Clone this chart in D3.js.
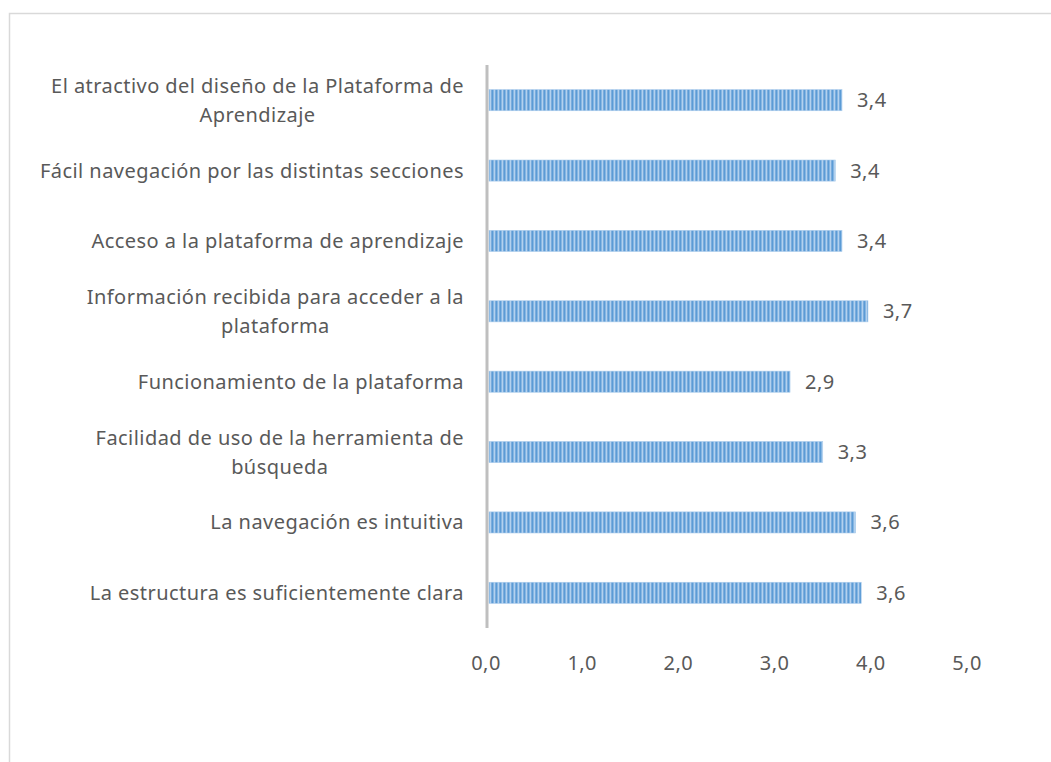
<!DOCTYPE html>
<html>
  <head>
    <meta charset="utf-8" />
    <title>Valoración de la plataforma</title>
    <style>
      html,
      body {
        margin: 0;
        padding: 0;
        background: #fff;
      }
      svg text {
        font-family: "Noto Sans", "Open Sans", sans-serif;
        fill: #595959;
        letter-spacing: 0.45px;
      }
    </style>
  </head>
  <body>
    <svg id="chart"></svg>
    <script src="https://cdn.jsdelivr.net/npm/d3@7"></script>
    <script>
      // categories, top to bottom, "\n" = line break as in the original
      const categories = [
        "El atractivo del diseño de la Plataforma de\nAprendizaje",
        "Fácil navegación por las distintas secciones",
        "Acceso a la plataforma de aprendizaje",
        "Información recibida para acceder a la\nplataforma",
        "Funcionamiento de la plataforma",
        "Facilidad de uso de la herramienta de\nbúsqueda",
        "La navegación es intuitiva",
        "La estructura es suficientemente clara"
      ];
      // bar lengths as drawn in the picture
      const barValues = [3.69, 3.62, 3.69, 3.96, 3.15, 3.49, 3.83, 3.89];
      // data labels as printed next to the bars
      const valueLabels = ["3,4", "3,4", "3,4", "3,7", "2,9", "3,3", "3,6", "3,6"];
      const xTicks = [0, 1, 2, 3, 4, 5];

      const width = 1051;
      const height = 762;
      const fontSize = 20;

      const svg = d3.select("#chart").attr("width", width).attr("height", height);

      // stripe pattern for the bars
      const defs = svg.append("defs");
      const pat = defs
        .append("pattern")
        .attr("id", "stripes")
        .attr("patternUnits", "userSpaceOnUse")
        .attr("width", 4)
        .attr("height", 4);
      const stripeCols = ["#5b9bd5", "#86b6e3", "#b3d1ee", "#7aacdd"];
      stripeCols.forEach((c, i) =>
        pat.append("rect").attr("x", i).attr("width", 1).attr("height", 4).attr("fill", c)
      );

      // chart border (cut off at right and bottom)
      svg
        .append("rect")
        .attr("x", 9.5)
        .attr("y", 13.5)
        .attr("width", 1100)
        .attr("height", 800)
        .attr("fill", "none")
        .attr("stroke", "#d9d9d9")
        .attr("stroke-width", 1.5);

      const x = d3.scaleLinear().domain([0, 5]).range([487, 968]);
      const y = d3
        .scaleBand()
        .domain(categories)
        .range([65, 628])
        .paddingInner(0.7)
        .paddingOuter(0.35);

      // bars
      svg
        .append("g")
        .selectAll("rect")
        .data(categories)
        .join("rect")
        .attr("x", x(0) + 2)
        .attr("y", (d) => y(d))
        .attr("width", (d, i) => x(barValues[i]) - x(0) - 2)
        .attr("height", y.bandwidth())
        .attr("fill", "url(#stripes)")
        .attr("stroke", "#a9cbeb")
        .attr("stroke-width", 0.6);

      // vertical axis line
      svg
        .append("line")
        .attr("x1", x(0))
        .attr("x2", x(0))
        .attr("y1", 65)
        .attr("y2", 628)
        .attr("stroke", "#bfbfbf")
        .attr("stroke-width", 3);

      // value labels
      svg
        .append("g")
        .selectAll("text")
        .data(categories)
        .join("text")
        .attr("x", (d, i) => x(barValues[i]) + 15)
        .attr("y", (d) => y(d) + y.bandwidth() / 2)
        .attr("dy", "0.35em")
        .style("font-size", fontSize + "px")
        .text((d, i) => valueLabels[i]);

      // x tick labels
      svg
        .append("g")
        .selectAll("text")
        .data(xTicks)
        .join("text")
        .attr("x", (d) => x(d) - 1)
        .attr("y", 663)
        .attr("dy", "0.35em")
        .attr("text-anchor", "middle")
        .style("font-size", fontSize + "px")
        .text((d) => d3.format(".1f")(d).replace(".", ","));

      // category labels: block right-aligned, lines centered to each other
      const labelRight = 464;
      const lineH = 29;
      categories.forEach((c) => {
        const lines = c.split("\n");
        const g = svg.append("g");
        const cy = y(c) + y.bandwidth() / 2;
        const texts = lines.map((l, k) =>
          g
            .append("text")
            .attr("y", cy + (k - (lines.length - 1) / 2) * lineH)
            .attr("dy", "0.35em")
            .attr("text-anchor", "middle")
            .style("font-size", fontSize + "px")
            .text(l)
        );
        const maxW = d3.max(texts, (t) => t.node().getComputedTextLength());
        texts.forEach((t) => t.attr("x", labelRight - maxW / 2));
      });
    </script>
  </body>
</html>
